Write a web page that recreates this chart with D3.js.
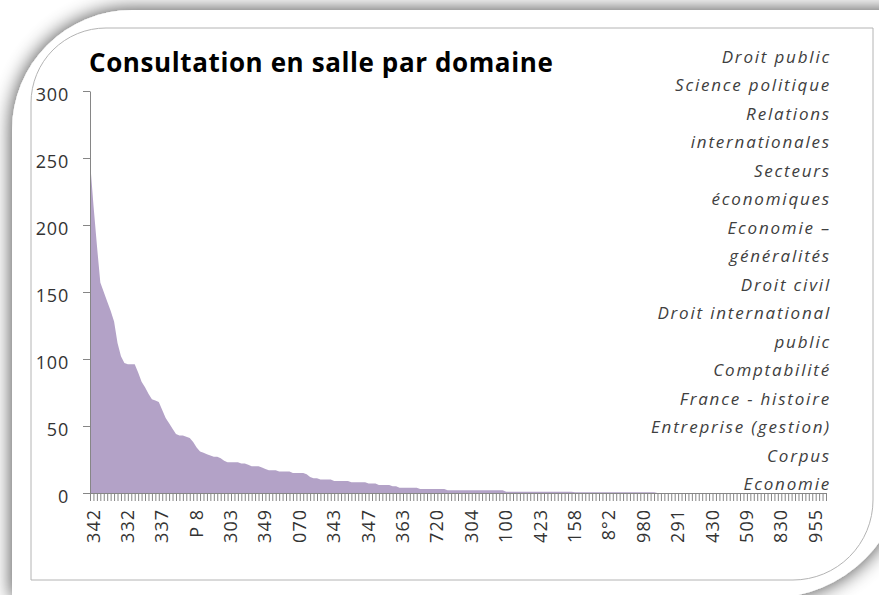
<!DOCTYPE html>
<html>
<head>
<meta charset="utf-8">
<script src="https://cdn.jsdelivr.net/npm/d3@7"></script>
<style>
  html, body { margin: 0; padding: 0; background: #ffffff; }
  svg { display: block; }
</style>
</head>
<body>
<svg id="chart" width="879" height="595"></svg>
<script>
// ---- DATA ----
const chartTitle = "Consultation en salle par domaine";
const yTicks = [0, 50, 100, 150, 200, 250, 300];
const labelEvery = 10;
const categoryLabels = ["342","332","337","P 8","303","349","070","343","347","363","720",
  "304","100","423","158","8°2","980","291","430","509","830","955"];
const values = [
  248,215,185,157,150,143,136,128,112,102,
  97,96,96,96,90,83,79,74,70,69,
  68,62,56,52,48,44,43,43,42,41,
  38,34,31,30,29,28,27,27,26,24,
  23,23,23,23,22,22,21,20,20,20,
  19,18,17,17,17,16,16,16,16,15,
  15,15,15,14,12,11,11,10,10,10,
  10,9,9,9,9,9,8,8,8,8,
  8,7,7,7,6,6,6,6,5,5,
  4,4,4,4,4,4,3,3,3,3,
  3,3,3,3,2,2,2,2,2,2,
  2,2,2,2,2,2,2,2,2,2,
  2,1,1,1,1,1,1,1,1,1,
  1,1,1,1,1,1,1,1,1,1,
  1,0.5,0.5,0.5,0.5,0.5,0.5,0.5,0.5,0.5,
  0.5,0.5,0.5,0.5,0.5,0.5,0.5,0.5,0.5,0.5,
  0.5,0.5,0.5,0.5,0.5,0,0,0,0,0,
  0,0,0,0,0,0,0,0,0,0,
  0,0,0,0,0,0,0,0,0,0,
  0,0,0,0,0,0,0,0,0,0,
  0,0,0,0,0,0,0,0,0,0,
  0,0,0,0,0
];
const domainNames = ["Droit public","Science politique","Relations","internationales",
  "Secteurs","économiques","Economie –","généralités","Droit civil",
  "Droit international","public","Comptabilité","France - histoire",
  "Entreprise (gestion)","Corpus","Economie"];

// ---- DRAW ----
const svg = d3.select("#chart");
const defs = svg.append("defs");
const f = defs.append("filter").attr("id","shadow")
  .attr("x","-20%").attr("y","-20%").attr("width","140%").attr("height","140%");
f.append("feGaussianBlur").attr("in","SourceAlpha").attr("stdDeviation",10).attr("result","b");
f.append("feComponentTransfer").attr("in","b").attr("result","s")
  .append("feFuncA").attr("type","linear").attr("slope",0.75);
const fm = f.append("feMerge");
fm.append("feMergeNode").attr("in","s");
fm.append("feMergeNode").attr("in","SourceGraphic");

// outer white card: rounded top-left and bottom-right
function cardPath(x0, y0, x1, y1, r1, r2) {
  return `M${x0},${y0 + r1} A${r1},${r1} 0 0 1 ${x0 + r1},${y0} L${x1},${y0} L${x1},${y1 - r2}` +
         ` A${r2},${r2} 0 0 1 ${x1 - r2},${y1} L${x0},${y1} Z`;
}
svg.append("path").attr("d", cardPath(12, 10, 905, 598, 120, 135))
  .attr("fill","#ffffff").attr("filter","url(#shadow)");
svg.append("path").attr("d", cardPath(31, 28, 873, 580, 75, 80))
  .attr("fill","none").attr("stroke","#b4b4b4").attr("stroke-width",1);

const plot = { left: 90, right: 826, top: 91, bottom: 493 };
const x = d3.scalePoint().domain(d3.range(values.length)).range([plot.left, plot.right]);
const y = d3.scaleLinear().domain([0, 300]).range([plot.bottom, plot.top]);

const area = d3.area()
  .x((d, i) => x(i))
  .y0(y(0))
  .y1(d => y(d));
svg.append("path").datum(values).attr("d", area).attr("fill", "#b3a2c7");

const axisColor = "#868686";
const textColor = "#333333";
const tickFont = "'Open Sans', sans-serif";

// Y axis
const yAxis = svg.append("g").attr("transform", `translate(${plot.left},0)`)
  .call(d3.axisLeft(y).tickValues(yTicks).tickSize(7).tickPadding(14).tickSizeOuter(0));
yAxis.select(".domain").attr("stroke", axisColor);
yAxis.selectAll(".tick line").attr("stroke", axisColor);
yAxis.selectAll(".tick text").attr("fill", textColor)
  .style("font-family", tickFont).style("font-size", "18px")
  .style("letter-spacing", "0.8px").attr("dy", "0.5em");

// X axis
const xAxis = svg.append("g").attr("transform", `translate(0,${plot.bottom})`)
  .call(d3.axisBottom(x).tickSize(8).tickSizeOuter(0)
    .tickFormat(i => i % labelEvery === 0 ? (categoryLabels[i / labelEvery] || "") : ""));
xAxis.select(".domain").attr("stroke", axisColor);
xAxis.selectAll(".tick line").attr("stroke", axisColor);
xAxis.selectAll(".tick text").attr("fill", textColor)
  .style("font-family", tickFont).style("font-size", "18px").style("letter-spacing", "1px")
  .attr("transform", "rotate(-90)")
  .attr("text-anchor", "end")
  .attr("x", -16).attr("y", 0).attr("dy", "0.5em");

// Title
svg.append("text").attr("x", 89).attr("y", 72)
  .style("font-family", "'Open Sans', sans-serif").style("font-weight", "bold")
  .style("font-size", "26px").style("letter-spacing", "0.6px").attr("fill", "#000000")
  .text(chartTitle);

// Domain list (right aligned)
const lineY = d3.scaleLinear().domain([0, domainNames.length - 1]).range([63, 490]);
svg.append("g").selectAll("text").data(domainNames).join("text")
  .attr("x", 831).attr("y", (d, i) => lineY(i))
  .attr("text-anchor", "end")
  .style("font-family", "'Open Sans', sans-serif").style("font-style", "italic")
  .style("font-size", "17px").style("letter-spacing", "1.8px")
  .attr("fill", "#404040")
  .text(d => d);
</script>
</body>
</html>
